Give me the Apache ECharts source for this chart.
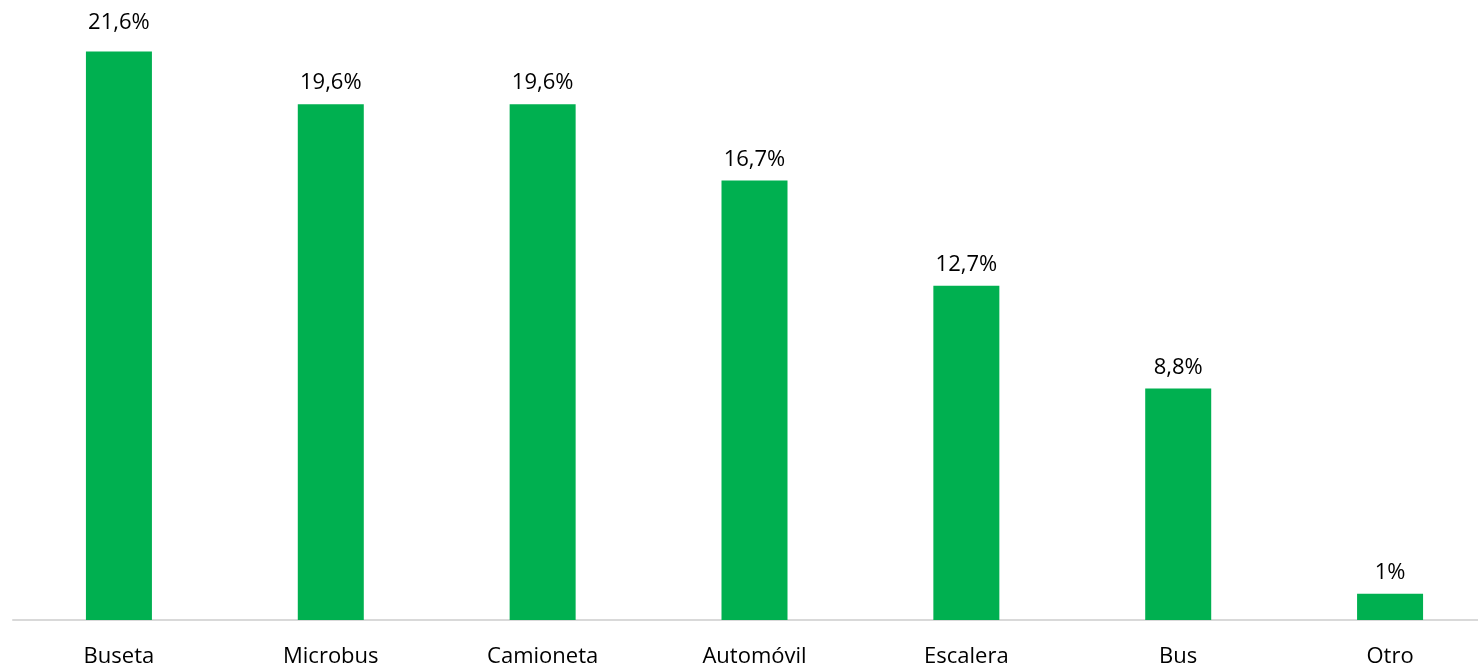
<!DOCTYPE html>
<html style="height: 100%">
<head>
    <meta charset="utf-8">
</head>
<body style="height: 100%; margin: 0; background: #fff; overflow: hidden">
    <!-- el eje sigue mas alla del borde derecho, por eso el contenedor es mas ancho que la ventana -->
    <div id="container" style="width: 1496px; height: 669px"></div>
    <script type="text/javascript" src="https://cdn.jsdelivr.net/npm/echarts@6/dist/echarts.min.js"></script>
    <script type="text/javascript">
        // categorias y porcentajes
        var categorias = ['Buseta', 'Microbus', 'Camioneta', 'Automóvil', 'Escalera', 'Bus', 'Otro'];
        var porcentajes = [21.6, 19.6, 19.6, 16.7, 12.7, 8.8, 1];

        var myChart = echarts.init(document.getElementById('container'));
        var fuente = "'Open Sans', 'Noto Sans', sans-serif";

        // la etiqueta de la primera barra queda un poco mas arriba en el original
        var datos = porcentajes.map(function (v, i) {
            if (i === 0) {
                return { value: v, label: { distance: 18 } };
            }
            return v;
        });

        var option = {
            animation: false,
            grid: {
                left: 13,
                right: 0,
                top: 41,
                bottom: 49,
                containLabel: false
            },
            xAxis: {
                type: 'category',
                data: categorias,
                axisLine: { lineStyle: { color: '#d9d9d9', width: 2 } },
                axisTick: { show: false },
                axisLabel: {
                    color: '#000',
                    fontSize: 22,
                    fontFamily: fuente,
                    margin: 26,
                    interval: 0
                }
            },
            yAxis: {
                type: 'value',
                min: 0,
                max: 22,
                show: false,
                splitLine: { show: false }
            },
            series: [{
                type: 'bar',
                data: datos,
                barWidth: 66,
                itemStyle: { color: '#00b050' },
                label: {
                    show: true,
                    position: 'top',
                    distance: 10,
                    color: '#000',
                    fontSize: 22,
                    fontFamily: fuente,
                    formatter: function (p) {
                        return String(p.value).replace('.', ',') + '%';
                    }
                }
            }]
        };
        myChart.setOption(option);
    </script>
</body>
</html>
